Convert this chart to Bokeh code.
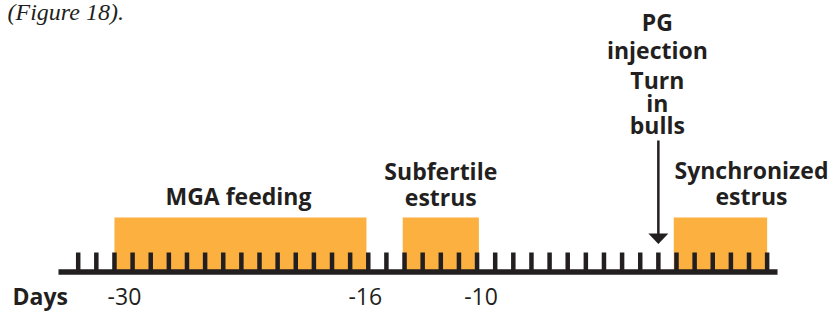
from bokeh.plotting import figure
from bokeh.models import Range1d
from bokeh.core.properties import value
from bokeh.embed import file_html
from bokeh.resources import INLINE

# ---- data ----
tick_days = list(range(-32, 7))          # one tick mark per day
label_days = [-30, -16, -10]              # labelled days
label_texts = ["-30", "-16", "-10"]
phase_names = ["MGA feeding", "Subfertile estrus", "Synchronized estrus"]
phase_start = [-30, -14.1, 0.85]
phase_end = [-16.1, -9.9, 6.0]
event_day = 0                             # PG injection / turn in bulls
event_lines = ["PG", "injection", "Turn", "in", "bulls"]

# ---- layout constants ----
S = 18.13                 # px per day
D30 = 113.96              # picture x of day -30
BASE = 271.5              # picture y of baseline
OFF = 0                   # picture offset of canvas
TS = 9                    # text vertical correction (px up)
def px_to_day(px):
    return -30 + (px - D30) / S

W, H = 829, 311
INK = "#231F20"
ORANGE = "#FBB040"
FONT = value("Open Sans")

p = figure(width=W, height=H, output_backend="svg", toolbar_location=None,
           x_range=Range1d(px_to_day(OFF), px_to_day(OFF + W)),
           y_range=Range1d(BASE - (OFF + H), BASE - OFF),
           min_border=0)
p.axis.visible = False
p.grid.visible = False
p.outline_line_color = None
p.background_fill_color = "white"
p.border_fill_color = "white"

# phase bars
p.quad(left=phase_start, right=phase_end, bottom=0, top=54.5,
       fill_color=ORANGE, line_color=None)

# day ticks
p.segment(x0=tick_days, y0=[0] * len(tick_days), x1=tick_days, y1=[19.5] * len(tick_days),
          line_color=INK, line_width=4.5, line_cap="butt")
# baseline
p.segment(x0=[px_to_day(58)], y0=[0], x1=[px_to_day(777)], y1=[0],
          line_color=INK, line_width=5.5, line_cap="butt")

# arrow for event
p.segment(x0=[event_day], y0=[BASE - 140], x1=[event_day], y1=[BASE - 236],
          line_color=INK, line_width=2.5)
hw = 10 / S
p.patch(x=[event_day - hw, event_day + hw, event_day],
        y=[BASE - 233, BASE - 233, BASE - 243.5], fill_color=INK, line_color=None)

def txt(x, y, t, size="23px", style="bold", align="center", font=FONT, x_offset=0):
    p.text(x=[x], y=[y + TS], text=[t], text_font=font, text_font_size=size,
           text_font_style=style, text_color=INK, text_align=align,
           text_baseline="alphabetic", x_offset=x_offset)

# phase labels
mid = [(a + b) / 2 for a, b in zip(phase_start, phase_end)]
txt(mid[0], BASE - 204, phase_names[0], x_offset=-2)
sub = phase_names[1].split(" ")
txt(mid[1], BASE - 179, sub[0])
txt(mid[1], BASE - 205, sub[1])
syn = phase_names[2].split(" ")
txt(mid[2], BASE - 178.5, syn[0], x_offset=31)
txt(mid[2], BASE - 204.5, syn[1], x_offset=31)

# event labels
ev_base = [30.7, 58, 88.3, 111, 133]
for t, b in zip(event_lines, ev_base):
    txt(event_day, BASE - b, t, x_offset=-1)

# day labels
offs = [10, -3, 4]
for d, t, o in zip(label_days, label_texts, offs):
    txt(d, BASE - 304.5, t, style="normal", x_offset=o)
txt(px_to_day(12), BASE - 304.5, "Days", align="left")

# caption fragment
txt(px_to_day(7), BASE - 20.5, "(Figure 18).", size="24px", style="italic",
    align="left", font=value("Liberation Serif"))

open("out.html", "w").write(file_html(p, INLINE))
